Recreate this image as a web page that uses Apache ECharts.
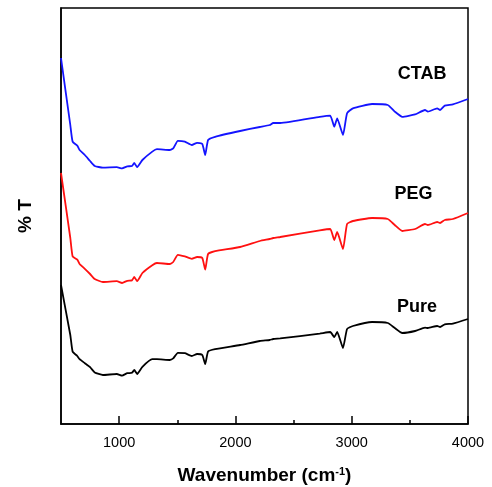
<!DOCTYPE html>
<html>
<head>
<meta charset="utf-8">
<script src="https://cdn.jsdelivr.net/npm/echarts@6/dist/echarts.min.js"></script>
<style>
  html, body { margin: 0; padding: 0; background: #fff; }
  #chart { width: 492px; height: 487px; }
</style>
</head>
<body>
<div id="chart"></div>
<script>
// wavenumber (cm-1) sample points
const wavenumbers = [500, 580, 600, 640, 660, 705, 750, 790, 860, 980, 1025, 1070, 1110, 1130, 1155, 1200,
  1285, 1325, 1435, 1465, 1505, 1565, 1625, 1670, 1715, 1740, 1765, 1825, 2040, 2210, 2295, 2325, 2385,
  2725, 2815, 2850, 2875, 2925, 2960, 3010, 3175, 3310, 3370, 3435, 3545, 3630, 3655, 3735, 3760, 3800, 3870, 4000];

// % T (offset, arbitrary units)
const pureT = [34.75, 22.25, 18.1, 17, 16.2, 15.2, 14.2, 12.9, 12.25, 12.5, 12.1, 12.7, 12.8, 13.5, 12.5, 14.3,
  16.2, 16.2, 16, 16.4, 17.8, 17.7, 17, 17.5, 17.25, 15, 18.1, 18.7, 19.75, 20.75, 21, 21.25, 21.4,
  22.6, 23, 21.75, 23, 19, 23.75, 24.5, 25.5, 25.25, 24, 22.75, 23.25, 24.1, 24, 24.5, 24.25, 24.9, 25.1, 26.25];

const pegT = [62.75, 46.5, 41.9, 41.1, 40, 38.8, 37.5, 36.25, 35.5, 35.7, 35.25, 35.8, 35.9, 36.75, 35.7, 37.75,
  39.7, 40.25, 40, 40.5, 42.3, 41.9, 41.3, 41.75, 41.5, 38.6, 42.5, 43.2, 44.25, 45.75, 46.25, 46.5, 46.75,
  48.4, 48.75, 46, 48, 43.75, 50, 50.75, 51.5, 51.25, 49.75, 48.25, 48.75, 50, 49.75, 50.5, 50.25, 51, 51.25, 52.75];

const ctabT = [91.5, 74.75, 70.6, 69.6, 68.5, 67.25, 65.75, 64.5, 64.1, 64.2, 63.9, 64.4, 64.5, 65.25, 64.2, 66,
  68.1, 68.7, 68.5, 68.9, 70.8, 70.6, 69.75, 70.3, 70, 67.25, 71, 71.8, 73.25, 74.25, 74.75, 75.25, 75.25,
  76.8, 77.1, 74.3, 76.4, 72.25, 77.7, 78.9, 80, 79.75, 78.1, 76.8, 77.4, 78.5, 78.1, 78.9, 78.5, 79.6, 79.9, 81.25];

const seriesNames = ["Pure", "PEG", "CTAB"];
const seriesColors = ["#000000", "#ff1010", "#1414ff"];
const seriesValues = [pureT, pegT, ctabT];
// where each sample name is written [wavenumber, %T]
const nameSpots = [[3562, 29.25], [3532, 57.6], [3605, 87.5]];

const majorTicks = [1000, 2000, 3000, 4000];
const minorTicks = [1500, 2500, 3500];

const font = "Liberation Sans, Arial, sans-serif";

let chartDom = document.getElementById("chart");
let myChart = echarts.init(chartDom);
let option;

option = {
  animation: false,
  grid: {
    left: 61,
    right: 24,
    top: 8,
    bottom: 63,
    outerBoundsMode: "none",
    show: true,
    borderColor: "#000",
    borderWidth: 1.5,
  },
  xAxis: [
    {
      type: "value",
      min: 500,
      max: 4000,
      position: "bottom",
      axisLine: { show: true, lineStyle: { color: "#000", width: 1.5 } },
      axisTick: {
        show: true,
        inside: true,
        length: 8,
        customValues: majorTicks,
        lineStyle: { color: "#000", width: 1.5 },
      },
      axisLabel: {
        customValues: majorTicks,
        formatter: (v) => String(v),
        color: "#000",
        fontFamily: font,
        fontSize: 14.5,
        margin: 11,
      },
      splitLine: { show: false },
      name: "Wavenumber (cm{sup|-1})",
      nameLocation: "middle",
      nameGap: 42,
      nameTextStyle: {
        color: "#000",
        fontFamily: font,
        fontSize: 19,
        fontWeight: "bold",
        rich: {
          sup: {
            fontFamily: font,
            fontSize: 11,
            fontWeight: "bold",
            color: "#000",
            verticalAlign: "top",
            padding: [0, 0, 9, 0],
          },
        },
      },
    },
    {
      type: "value",
      min: 500,
      max: 4000,
      position: "bottom",
      axisLine: { show: false },
      axisTick: {
        show: true,
        inside: true,
        length: 4,
        customValues: minorTicks,
        lineStyle: { color: "#000", width: 1.5 },
      },
      axisLabel: { show: false },
      splitLine: { show: false },
    },
  ],
  yAxis: {
    type: "value",
    min: 0,
    max: 104,
    axisLine: { show: true, lineStyle: { color: "#000", width: 1.5 } },
    axisTick: { show: false },
    axisLabel: { show: false },
    splitLine: { show: false },
    name: "% T",
    nameLocation: "middle",
    nameRotate: 90,
    nameGap: 26,
    nameTextStyle: {
      color: "#000",
      fontFamily: font,
      fontSize: 19,
      fontWeight: "bold",
    },
  },
  series: [],
};

seriesNames.forEach((name, i) => {
  option.series.push({
    name: name,
    type: "line",
    xAxisIndex: 0,
    showSymbol: false,
    symbol: "none",
    smooth: 0.15,
    lineStyle: { color: seriesColors[i], width: 1.8 },
    data: wavenumbers.map((w, k) => [w, seriesValues[i][k]]),
    markPoint: {
      silent: true,
      symbol: "circle",
      symbolSize: 0,
      label: {
        show: true,
        position: "inside",
        formatter: "{b}",
        color: "#000",
        fontFamily: font,
        fontSize: 18,
        fontWeight: "bold",
      },
      data: [{ name: name, coord: nameSpots[i] }],
    },
  });
});

option && myChart.setOption(option);
</script>
</body>
</html>
